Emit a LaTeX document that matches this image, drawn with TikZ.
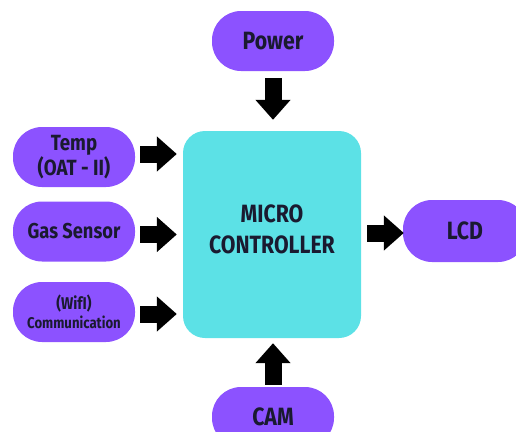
\documentclass[tikz,border=0pt]{standalone}
\usepackage{fontspec}
\setmainfont{Fira Sans}[FakeStretch=0.85]
\usetikzlibrary{arrows.meta}
\definecolor{pillpurple}{HTML}{8C52FF}
\definecolor{mcucyan}{HTML}{5CE1E6}
\definecolor{inkdark}{HTML}{1A1A30}
\tikzset{
  pill/.style={fill=pillpurple, draw=none, rounded corners=29pt, minimum width=122pt, minimum height=60pt,
    text=inkdark, font=\bfseries, align=center, inner sep=0pt},
  mcu/.style={fill=mcucyan, draw=none, rounded corners=22pt, minimum width=178pt, minimum height=207pt,
    text=inkdark, align=center, inner sep=0pt},
  blk/.style={draw=black, line width=17pt, -{Triangle[length=20pt,width=34pt]}}
}
\begin{document}
\begin{tikzpicture}[x=1pt,y=-1pt]
\useasboundingbox (0,0) rectangle (516,431);
\node[mcu] (micro) at (272,234.5) {};
\node[text=inkdark, align=center, inner sep=0pt, font=\bfseries\fontsize{25}{31}\selectfont] (microtext) at (272,229) {MICRO\\CONTROLLER};
\node[pill, font=\bfseries\fontsize{25}{26}\selectfont] (power) at (273,41) {Power};
\node[pill, font=\bfseries\fontsize{22}{21}\selectfont] (temp) at (74,157) {Temp\\(OAT - II)};
\node[pill, font=\bfseries\fontsize{21.5}{22}\selectfont] (gas) at (74,231.5) {Gas Sensor};
\node[pill, font=\bfseries\fontsize{15.5}{19}\selectfont] (wifi) at (74,312) {{\fontsize{17}{19}\selectfont (WifI)}\\Communication};
\node[pill, minimum width=124pt, minimum height=62pt, font=\bfseries\fontsize{25}{26}\selectfont] (lcd) at (465,231) {LCD};
\node[pill, font=\bfseries\fontsize{25}{26}\selectfont] (cam) at (273,417) {CAM};
\draw[blk, shorten <=7pt, shorten >=11pt] (power.south) -- (power.south |- micro.north);
\draw[blk, shorten <=5pt, shorten >=6pt] ([yshift=3pt]temp.east) -- ([yshift=3pt]temp.east -| micro.west);
\draw[blk, shorten <=5pt, shorten >=6pt] ([yshift=-3pt]gas.east) -- ([yshift=-3pt]gas.east -| micro.west);
\draw[blk, shorten <=5pt, shorten >=6pt] ([yshift=-2pt]wifi.east) -- ([yshift=-2pt]wifi.east -| micro.west);
\draw[blk, shorten <=6pt, shorten >=-1pt] ([yshift=-2pt]micro.east |- lcd.west) -- ([yshift=-2pt]lcd.west);
\draw[blk, shorten <=2pt, shorten >=5pt] (cam.north) -- (cam.north |- micro.south);
\end{tikzpicture}
\end{document}
